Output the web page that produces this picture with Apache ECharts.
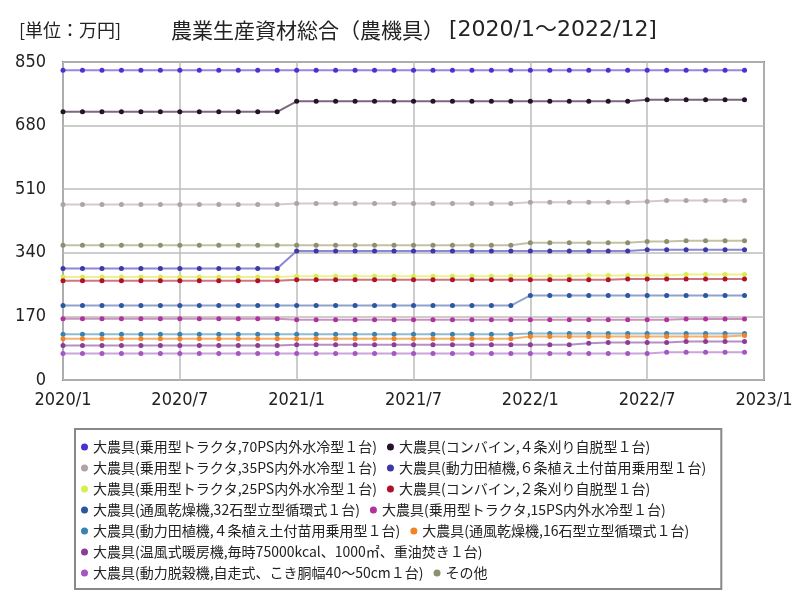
<!DOCTYPE html>
<html><head><meta charset="utf-8">
<script src="https://cdn.jsdelivr.net/npm/echarts@6/dist/echarts.min.js"></script>
<style>html,body{margin:0;padding:0;background:#fff}#c{width:800px;height:600px}</style>
</head><body><div id="c"></div>
<script>
const months = ['2020/1','2020/2','2020/3','2020/4','2020/5','2020/6','2020/7','2020/8','2020/9','2020/10','2020/11','2020/12',
 '2021/1','2021/2','2021/3','2021/4','2021/5','2021/6','2021/7','2021/8','2021/9','2021/10','2021/11','2021/12',
 '2022/1','2022/2','2022/3','2022/4','2022/5','2022/6','2022/7','2022/8','2022/9','2022/10','2022/11','2022/12','2023/1'];
const yTicks = [0,170,340,510,680,850];
const names = [
 '大農具(乗用型トラクタ,70PS内外水冷型１台)',
 '大農具(コンバイン,４条刈り自脱型１台)',
 '大農具(乗用型トラクタ,35PS内外水冷型１台)',
 '大農具(動力田植機,６条植え土付苗用乗用型１台)',
 '大農具(乗用型トラクタ,25PS内外水冷型１台)',
 '大農具(コンバイン,２条刈り自脱型１台)',
 '大農具(通風乾燥機,32石型立型循環式１台)',
 '大農具(乗用型トラクタ,15PS内外水冷型１台)',
 '大農具(動力田植機,４条植え土付苗用乗用型１台)',
 '大農具(通風乾燥機,16石型立型循環式１台)',
 '大農具(温風式暖房機,毎時75000kcal、1000㎡、重油焚き１台)',
 '大農具(動力脱穀機,自走式、こき胴幅40～50cm１台)',
 'その他'
];
const tractor70 = [828,828,828,828,828,828,828,828,828,828,828,828, 828,828,828,828,828,828,828,828,828,828,828,828, 828,828,828,828,828,828,828,828,828,828,828,828];
const combine4 = [717,717,717,717,717,717,717,717,717,717,717,717, 745,745,745,745,745,745,745,745,745,745,745,745, 745,745,745,745,745,745,749,749,749,749,749,749];
const tractor35 = [469,469,469,469,469,469,469,469,469,469,469,469, 472,472,472,472,472,472,472,472,472,472,472,472, 475,475,475,475,475,475,477,480,480,480,480,480];
const planter6 = [298,298,298,298,298,298,298,298,298,298,298,298, 345,345,345,345,345,345,345,345,345,345,345,345, 345,345,345,345,345,345,348,348,348,348,348,348];
const tractor25 = [275,275,275,275,275,275,275,275,275,275,275,275, 277,277,277,277,277,277,277,277,277,277,277,277, 277,277,277,279,279,279,279,279,282,282,282,282];
const combine2 = [265,265,265,265,265,265,265,265,265,265,265,265, 268,268,268,268,268,268,268,268,268,268,268,268, 268,268,268,268,268,270,270,270,270,270,270,270];
const dryer32 = [199,199,199,199,199,199,199,199,199,199,199,199, 199,199,199,199,199,199,199,199,199,199,199,199, 226,226,226,226,226,226,226,226,226,226,226,226];
const tractor15 = [164,164,164,164,164,164,164,164,164,164,164,164, 161,161,161,161,161,161,161,161,161,161,161,161, 161,161,161,161,161,161,161,161,163,163,163,163];
const planter4 = [122,122,122,122,122,122,122,122,122,122,122,122, 122,122,122,122,122,122,122,122,122,122,122,122, 124,124,124,124,124,124,124,124,124,124,124,124];
const dryer16 = [110,110,110,110,110,110,110,110,110,110,110,110, 110,110,110,110,110,110,110,110,110,110,110,110, 116,116,116,116,116,116,116,116,116,116,116,119];
const heater = [92,92,92,92,92,92,92,92,92,92,92,92, 94,94,94,94,94,94,94,94,94,94,94,94, 94,94,94,98,100,100,100,100,103,103,103,103];
const thresher = [71,71,71,71,71,71,71,71,71,71,71,71, 71,71,71,71,71,71,71,71,71,71,71,71, 71,71,71,71,71,71,71,74,74,74,74,74];
const others = [360,360,360,360,360,360,360,360,360,360,360,360, 360,360,360,360,360,360,360,360,360,360,360,360, 367,367,367,367,367,367,370,370,372,372,372,372];

const seriesData = [tractor70, combine4, tractor35, planter6, tractor25, combine2, dryer32, tractor15, planter4, dryer16, heater, thresher, others];
const dotColors = ['#4f2fd2','#26102a','#b0a2aa','#3b38a8','#d8ee4a','#b0102c','#2b56a2','#b0329c','#3a82b2','#f08424','#8c3c96','#a456c2','#8e8e70'];
const lineColors = ['#9c86e4','#7c687e','#d6c8d0','#8c88d2','#eef28e','#d2747e','#8ea4cc','#cc92c0','#90bcd4','#f4b272','#b690c2','#caa4dc','#c2c2a4'];

const chart = echarts.init(document.getElementById('c'), null, {renderer:'canvas'});
const condensed = '"DejaVu Sans Condensed", "DejaVu Sans", sans-serif';
const cjk = '"Noto Sans CJK JP", sans-serif';
chart.setOption({
  animation:false,
  backgroundColor:'#fff',
  title:[
    {text:'[単位：万円]', left:14, top:16, textStyle:{fontSize:18, fontWeight:'normal', color:'#222', fontFamily:cjk}},
    {text:'{a|農業生産資材総合（農機具）} {b|[2020/1～2022/12]}', left:166, top:14,
     textStyle:{fontWeight:'normal', rich:{
       a:{fontSize:21, fontWeight:'normal', color:'#222', fontFamily:cjk},
       b:{fontSize:22, fontWeight:'normal', color:'#222', fontFamily:'"DejaVu Sans", "Noto Sans CJK JP", sans-serif'}
     }}}
  ],
  grid:{left:63, right:36, top:62, bottom:220, show:true, borderColor:'#7f7f7f', borderWidth:2, containLabel:false},
  xAxis:{type:'category', data:months, boundaryGap:false,
    axisLine:{show:false}, axisTick:{show:false},
    axisLabel:{interval:5, margin:11, fontSize:18, color:'#222', fontFamily:condensed},
    splitLine:{show:true, interval:5, lineStyle:{color:'#bdbdbd', width:1.5}}},
  yAxis:{type:'value', min:yTicks[0], max:yTicks[yTicks.length-1], interval:170,
    axisLine:{show:false}, axisTick:{show:false},
    axisLabel:{margin:17, fontSize:18, color:'#222', fontFamily:condensed},
    splitLine:{show:true, lineStyle:{color:'#bdbdbd', width:1.5}}},
  legend:{left:75, top:429, width:655, orient:'horizontal', icon:'circle', itemWidth:7, itemHeight:7, itemGap:7,
    padding:[11,12,9,6], borderColor:'#888', borderWidth:2,
    textStyle:{fontSize:14, lineHeight:14, color:'#222', fontFamily:cjk, padding:[0,3,0,0]},
    data:names},
  series: names.map((n,i)=>({
    name:n, type:'line', data:seriesData[i], symbol:'circle', symbolSize:5,
    itemStyle:{color:dotColors[i]}, lineStyle:{color:lineColors[i], width:2},
    emphasis:{disabled:true}
  }))
});
</script></body></html>
